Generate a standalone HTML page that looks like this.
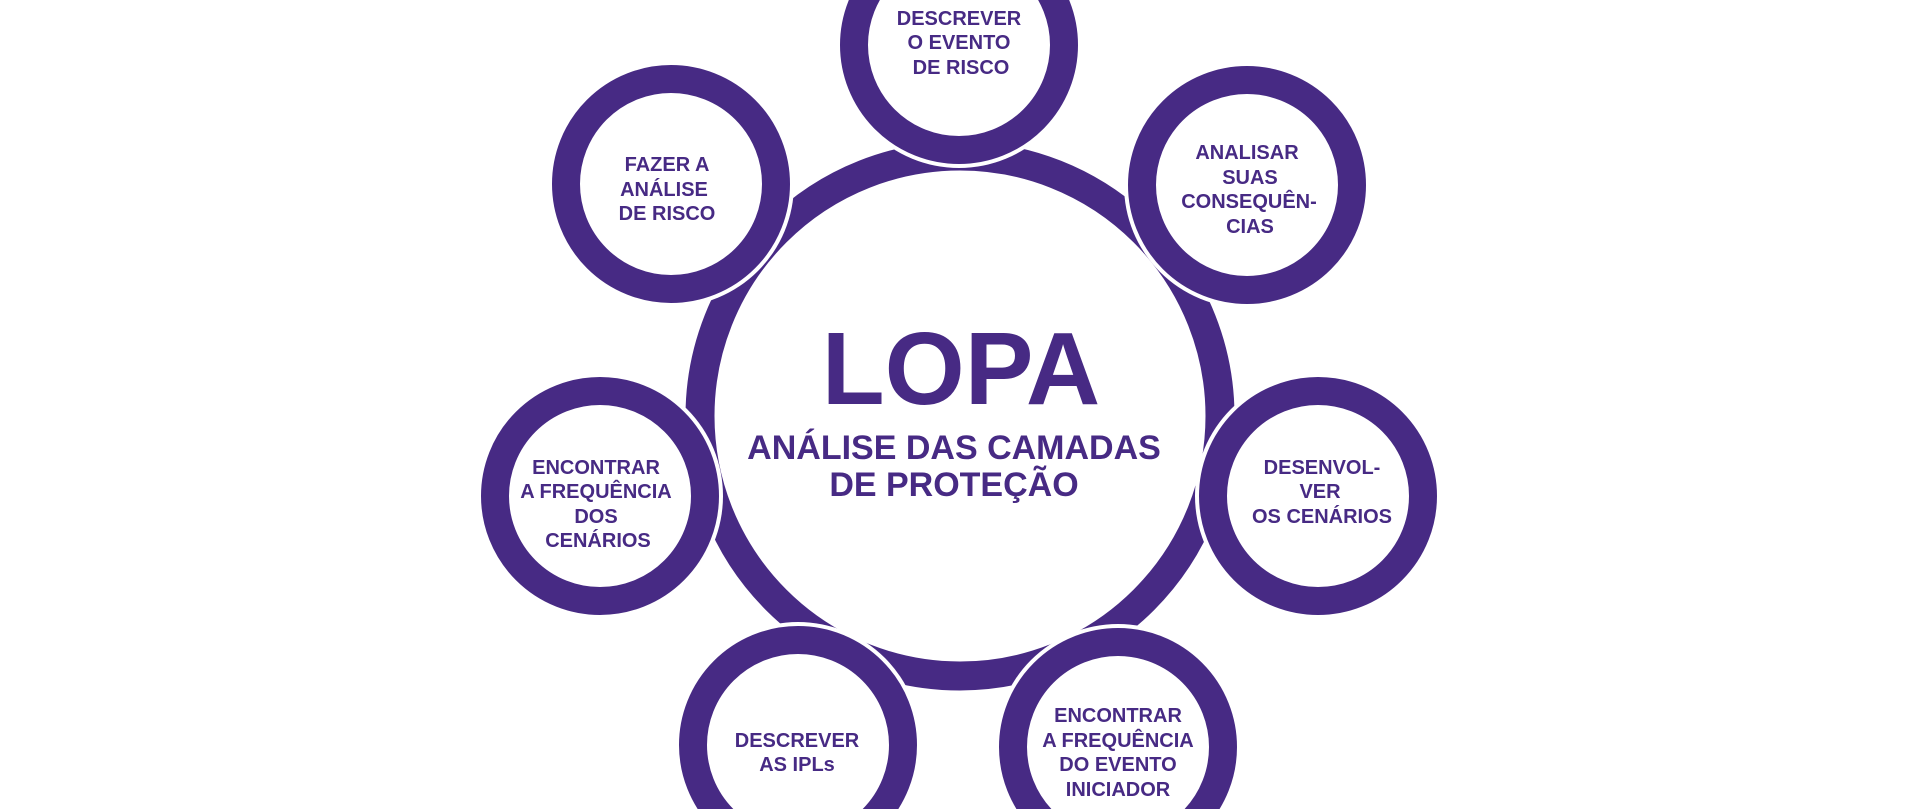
<!DOCTYPE html>
<html><head><meta charset="utf-8"><style>
html,body{margin:0;padding:0;background:#fff;width:1920px;height:809px;overflow:hidden}
svg{display:block}
svg text{font-family:"Liberation Sans",Arial,sans-serif;font-weight:bold;fill:#472a84;text-anchor:middle}
</style></head><body>
<svg width="1920" height="809" viewBox="0 0 1920 809">
<circle cx="960" cy="416" r="260" fill="none" stroke="#472a84" stroke-width="29"/>
<g fill="#fff">
<circle cx="959" cy="45" r="123"/>
<circle cx="671" cy="184" r="123"/>
<circle cx="1247" cy="185" r="123"/>
<circle cx="600" cy="496" r="123"/>
<circle cx="1318" cy="496" r="123"/>
<circle cx="798" cy="745" r="123"/>
<circle cx="1118" cy="747" r="123"/>
</g>
<g fill="none" stroke="#472a84" stroke-width="28">
<circle cx="959" cy="45" r="105"/>
<circle cx="671" cy="184" r="105"/>
<circle cx="1247" cy="185" r="105"/>
<circle cx="600" cy="496" r="105"/>
<circle cx="1318" cy="496" r="105"/>
<circle cx="798" cy="745" r="105"/>
<circle cx="1118" cy="747" r="105"/>
</g>
<text x="961" y="404" font-size="103">LOPA</text>
<text x="954" y="459" font-size="34">ANÁLISE DAS CAMADAS</text>
<text x="954" y="496" font-size="34">DE PROTEÇÃO</text>
<g font-size="20">
<text x="959" y="25">DESCREVER</text>
<text x="959" y="49">O EVENTO</text>
<text x="961" y="74">DE RISCO</text>
<text x="667" y="171">FAZER A</text>
<text x="664" y="196">ANÁLISE</text>
<text x="667" y="220">DE RISCO</text>
<text x="1247" y="159">ANALISAR</text>
<text x="1250" y="184">SUAS</text>
<text x="1249" y="208">CONSEQUÊN-</text>
<text x="1250" y="233">CIAS</text>
<text x="596" y="474">ENCONTRAR</text>
<text x="596" y="498">A FREQUÊNCIA</text>
<text x="596" y="523">DOS</text>
<text x="598" y="547">CENÁRIOS</text>
<text x="1322" y="474">DESENVOL-</text>
<text x="1320" y="498">VER</text>
<text x="1322" y="523">OS CENÁRIOS</text>
<text x="797" y="747">DESCREVER</text>
<text x="797" y="771">AS IPLs</text>
<text x="1118" y="722">ENCONTRAR</text>
<text x="1118" y="747">A FREQUÊNCIA</text>
<text x="1118" y="771">DO EVENTO</text>
<text x="1118" y="796">INICIADOR</text>
</g>
</svg>
</body></html>
